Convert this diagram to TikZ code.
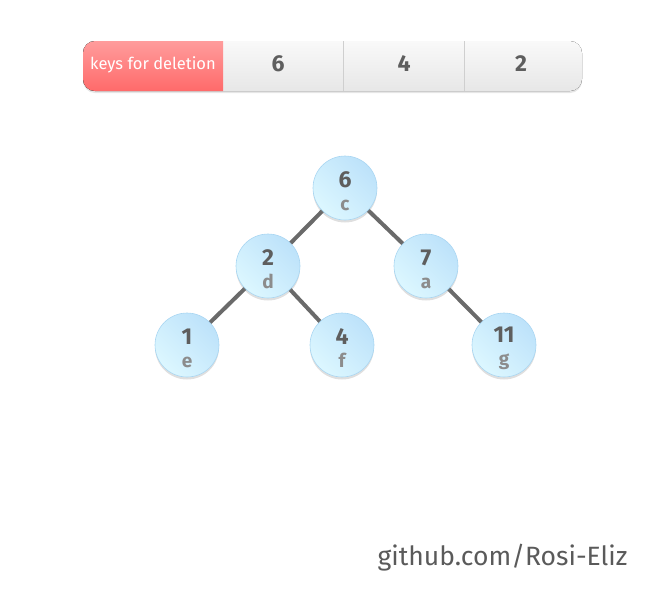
\documentclass[tikz,border=0pt]{standalone}
\usepackage{fontspec}
\setmainfont{Fira Sans}
\usetikzlibrary{shadows,backgrounds}
\definecolor{numgray}{HTML}{5E5E5E}
\definecolor{letgray}{HTML}{8C8C8C}
\definecolor{edgegray}{HTML}{6A6A6A}
\definecolor{nodeA}{HTML}{DCF7FF}
\definecolor{nodeB}{HTML}{BDE2FA}
\definecolor{nodeline}{HTML}{A9D6F2}
\definecolor{redA}{HTML}{FF9C9C}
\definecolor{redB}{HTML}{FF6A6A}
\definecolor{barA}{HTML}{F9F9F9}
\definecolor{barB}{HTML}{E7E7E7}
\definecolor{divgray}{HTML}{CFCFCF}
\definecolor{footgray}{HTML}{5A5A5A}
\tikzset{
  treenode/.style={circle, minimum size=64pt, inner sep=0pt, draw=nodeline, line width=0.6pt,
    left color=nodeA, right color=nodeB, shading angle=135,
    drop shadow={opacity=0.25, shadow xshift=0pt, shadow yshift=-2.5pt},
    align=center, text=numgray, font=\fontsize{23}{23}\selectfont\bfseries},
  edge/.style={line width=4pt, draw=edgegray},
  cell/.style={minimum width=120pt, minimum height=50pt, inner sep=0pt, text=numgray,
    font=\fontsize{23}{23}\selectfont\bfseries},
}
\newcommand{\tn}[2]{\raisebox{-3pt}[\height][\depth]{#1}\\\raisebox{-3pt}[\height][\depth]{\fontsize{19}{19}\selectfont\color{letgray}#2}}
\begin{document}
\begin{tikzpicture}[x=1pt,y=-1pt]
\useasboundingbox (0,0) rectangle (667,600);
% bar
\fill[rounded corners=12pt, top color=barA, bottom color=barB,
  drop shadow={opacity=0.2, shadow xshift=0pt, shadow yshift=-2pt}]
  (83,41) rectangle (582,91);
\begin{scope}
\clip[rounded corners=12pt] (83,41) rectangle (582,91);
\fill[top color=redA, bottom color=redB] (83,41) rectangle (223,91);
\end{scope}
\draw[divgray, line width=1pt] (343,41) -- (343,91);
\draw[divgray, line width=1pt] (464,41) -- (464,91);
\node[text=white, font=\fontsize{16.5}{16.5}\selectfont] (keys) at (153,65) {keys for deletion};
\node[cell] (k6) at (278,64) {6};
\node[cell] (k4) at (404,64) {4};
\node[cell] (k2) at (521,64) {2};
% tree
\node[treenode] (c) at (345,188) {\tn{6}{c}};
\node[treenode] (d) at (268,266) {\tn{2}{d}};
\node[treenode] (a) at (426,266) {\tn{7}{a}};
\node[treenode] (e) at (187,345) {\tn{1}{e}};
\node[treenode] (f) at (342,345) {\tn{4}{f}};
\node[treenode] (g) at (504,345) {\tn{11}{g}};
\begin{scope}[on background layer]
\draw[edge] (c.center) -- (d.center);
\draw[edge] (c.center) -- (a.center);
\draw[edge] (d.center) -- (e.center);
\draw[edge] (d.center) -- (f.center);
\draw[edge] (a.center) -- (g.center);
\end{scope}
\node[anchor=base east, text=footgray, font=\fontsize{26.5}{26.5}\selectfont] (foot) at (631,565) {github.com/Rosi-Eliz};
\end{tikzpicture}
\end{document}
